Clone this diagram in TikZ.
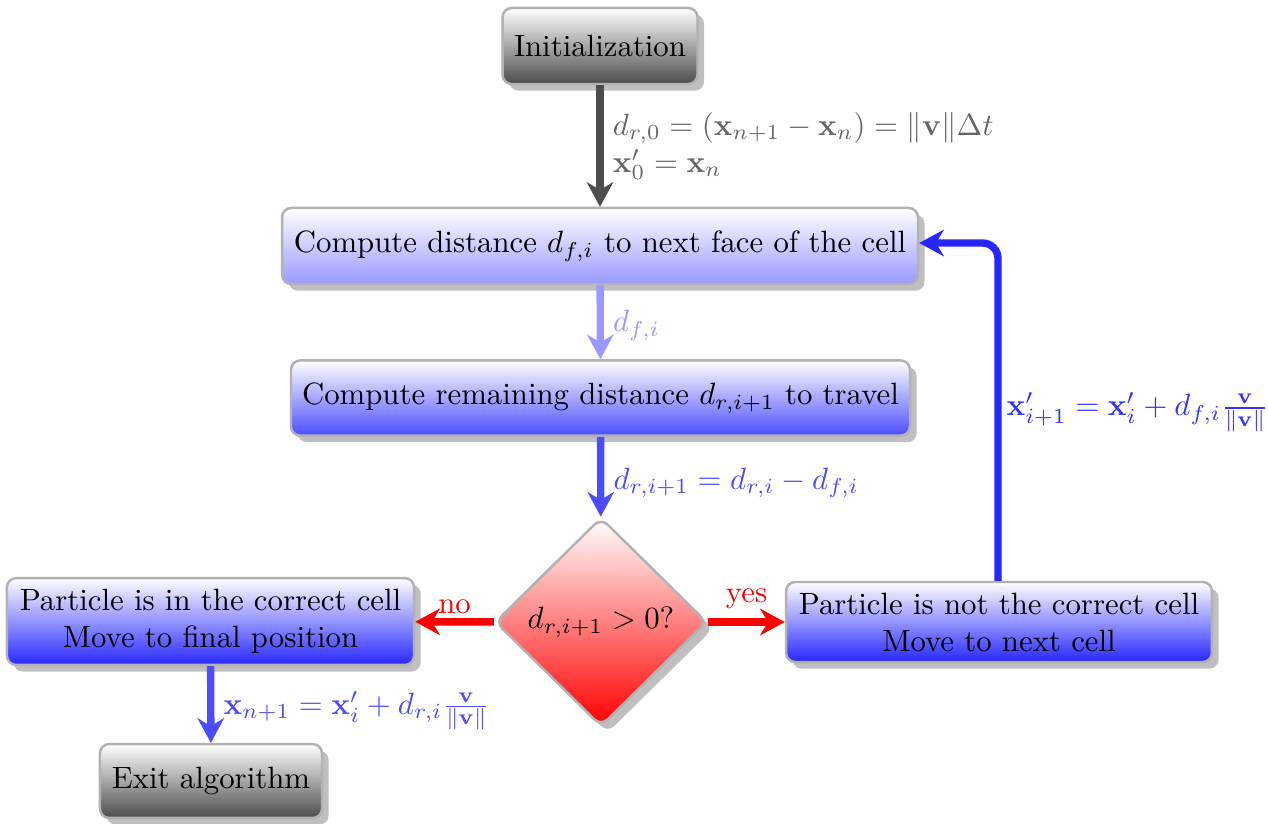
\documentclass[tikz,border=0pt]{standalone}
\usetikzlibrary{shapes.geometric,shadows,arrows.meta}
\begin{document}
\begin{tikzpicture}[x=0.3247pt,y=-0.3247pt,
  box/.style={rectangle,rounded corners=3pt,draw=black!30,thick,drop shadow,align=center,inner sep=2pt},
  graybox/.style={box,top color=white,bottom color=black!70},
  bluebox/.style={box,top color=white,bottom color=#1},
  decision/.style={diamond,aspect=1,rounded corners=3pt,draw=black!30,thick,drop shadow,top color=white,bottom color=red,inner sep=1pt},
  flow/.style={line width=2.4pt,-{Stealth[length=8pt,width=8.6pt,inset=2.6pt]}},
  lbl/.style={font=\normalsize,inner sep=1pt}
]
\useasboundingbox (0,0) rectangle (1268,823);

\node[graybox,minimum width=63.3pt,minimum height=24.7pt] (init) at (600,46) {Initialization};
\node[bluebox=blue!40,minimum width=206.5pt,minimum height=24.7pt] (face) at (600,246) {Compute distance $d_{f,i}$ to next face of the cell};
\node[bluebox=blue!70,minimum width=201pt,minimum height=24.4pt] (remain) at (600.5,398) {Compute remaining distance $d_{r,i+1}$ to travel};
\node[decision,minimum width=68.8pt,minimum height=67.8pt] (dec) at (601,622) {$d_{r,i+1} > 0$?};
\node[bluebox=blue!85,minimum width=132.2pt,minimum height=28.2pt] (inside) at (210.5,621.5) {Particle is in the correct cell\\Move to final position};
\node[bluebox=blue!85,minimum width=138.3pt,minimum height=26pt] (outside) at (999,622) {Particle is not the correct cell\\Move to next cell};
\node[graybox,minimum width=72.1pt,minimum height=24pt] (exit) at (211,781) {Exit algorithm};

\coordinate (corner) at (998,243);

\draw[flow,black!70] (init) -- (face)
  node[lbl,pos=0.5,anchor=west,align=left,text=black!60,xshift=2pt,yshift=0pt] (l1) {$d_{r,0} = (\mathbf{x}_{n+1}-\mathbf{x}_n) = \|\mathbf{v}\|\Delta t$\\$\mathbf{x}'_0 = \mathbf{x}_n$};
\draw[flow,blue!40] (face) -- (remain)
  node[lbl,pos=0.5,anchor=west,text=blue!40,xshift=2pt,yshift=-1pt] (l2) {$d_{f,i}$};
\draw[flow,blue!70] (remain) -- (dec)
  node[lbl,pos=0.5,anchor=west,text=blue!70,xshift=2pt,yshift=-2pt] (l3) {$d_{r,i+1} = d_{r,i} - d_{f,i}$};
\draw[flow,red] (dec) -- (inside)
  node[lbl,pos=0.5,above,text=red,yshift=0.5pt] (lno) {no};
\draw[flow,red] (dec) -- (outside)
  node[lbl,pos=0.5,above,text=red,yshift=2pt] (lyes) {yes};
\draw[flow,blue!85,rounded corners=5pt] (outside.north -| corner) -- (corner) -- (face.east |- corner);
\node[lbl,anchor=west,text=blue!80] (l4) at (1003,412) {$\mathbf{x}'_{i+1} = \mathbf{x}'_i + d_{f,i}\frac{\mathbf{v}}{\|\mathbf{v}\|}$};
\draw[flow,blue!70] (inside) -- (exit)
  node[lbl,pos=0.5,anchor=west,text=blue!70,xshift=2pt,yshift=-2pt] (l5) {$\mathbf{x}_{n+1} = \mathbf{x}'_i + d_{r,i}\frac{\mathbf{v}}{\|\mathbf{v}\|}$};
\end{tikzpicture}
\end{document}
